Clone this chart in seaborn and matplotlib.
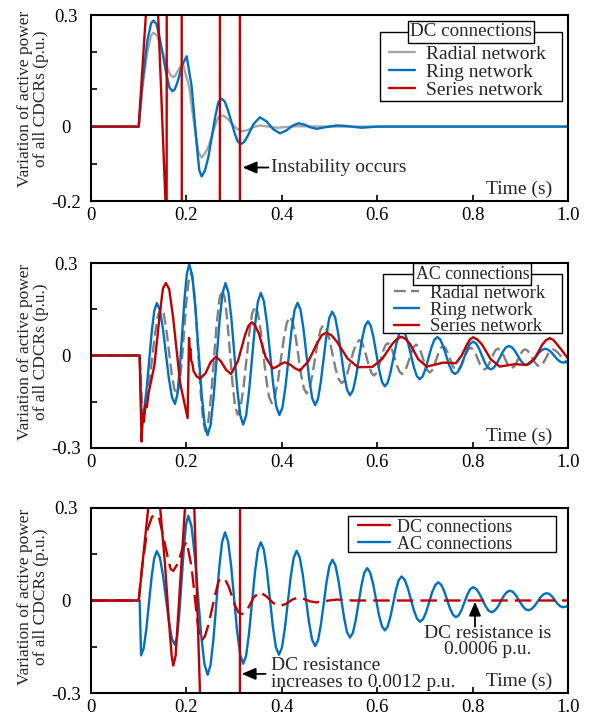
import matplotlib
matplotlib.use("Agg")
import matplotlib.pyplot as plt
from matplotlib.patches import Rectangle
import pandas as pd
import seaborn as sns

# ---------------- data (time s, active power variation p.u.) ----------------
top_radial = [(0, 0), (0.1, 0), (0.108, 0.105), (0.118, 0.20), (0.126, 0.245), (0.131, 0.252),
              (0.138, 0.246), (0.145, 0.222), (0.159, 0.163), (0.166, 0.139), (0.1725, 0.133),
              (0.1765, 0.136), (0.179, 0.142), (0.186, 0.159), (0.193, 0.168), (0.206, 0.105),
              (0.219, -0.020), (0.2255, -0.070), (0.232, -0.083), (0.239, -0.072), (0.246, -0.055),
              (0.260, 0.002), (0.267, 0.025), (0.274, 0.030), (0.281, 0.027), (0.288, 0.019),
              (0.302, -0.002), (0.316, -0.013), (0.329, -0.009), (0.341, -0.001), (0.354, 0.003),
              (0.39, -0.003), (0.43, 0.001), (0.5, 0.0), (1.0, 0.0)]
top_ring = [(0, 0), (0.1, 0), (0.108, 0.12), (0.118, 0.23), (0.126, 0.278), (0.131, 0.285),
            (0.1375, 0.275), (0.144, 0.238), (0.158, 0.142), (0.1645, 0.105), (0.171, 0.095),
            (0.1755, 0.100), (0.181, 0.118), (0.191, 0.165), (0.2006, 0.189), (0.211, 0.108),
            (0.222, -0.053), (0.227, -0.117), (0.232, -0.134), (0.239, -0.118), (0.246, -0.082),
            (0.260, 0.023), (0.267, 0.066), (0.274, 0.075), (0.2805, 0.067), (0.287, 0.045),
            (0.301, -0.017), (0.3075, -0.040), (0.314, -0.047), (0.3205, -0.042), (0.327, -0.029),
            (0.341, 0.007), (0.354, 0.025), (0.368, 0.014), (0.382, -0.007), (0.396, -0.018),
            (0.409, -0.011), (0.422, 0.002), (0.435, 0.009), (0.448, 0.005), (0.460, -0.002),
            (0.473, -0.006), (0.494, -0.001), (0.515, 0.003), (0.532, 0.002), (0.567, -0.003),
            (0.6, 0.0), (1.0, 0.0)]
top_series = [(0, 0), (0.1, 0), (0.131, 0.62), (0.1585, -0.28), (0.159, 0.7), (0.190, 0.7),
              (0.1905, -0.7), (0.270, -0.7), (0.2705, 0.7), (0.312, 0.7), (0.3125, -0.7), (1.0, -0.7)]

mid_radial = [(0, 0), (0.102, 0), (0.108, -0.19), (0.1145, -0.167), (0.121, -0.104), (0.134, 0.068),
              (0.1405, 0.131), (0.147, 0.154), (0.1525, 0.135), (0.158, 0.084), (0.169, -0.057),
              (0.1745, -0.108), (0.180, -0.127), (0.1849, -0.101), (0.1899, -0.028), (0.1997, 0.169),
              (0.2047, 0.242), (0.2096, 0.268), (0.2147, 0.234), (0.2197, 0.139), (0.2299, -0.118),
              (0.2349, -0.212), (0.240, -0.246), (0.2458, -0.215), (0.2517, -0.131), (0.2633, 0.099),
              (0.2692, 0.183), (0.275, 0.214), (0.2804, 0.187), (0.2858, 0.112), (0.2967, -0.091),
              (0.3021, -0.165), (0.3075, -0.192), (0.3136, -0.168), (0.3197, -0.104), (0.3318, 0.072),
              (0.3379, 0.136), (0.344, 0.160), (0.3498, 0.139), (0.3557, 0.081), (0.3673, -0.076),
              (0.3732, -0.134), (0.379, -0.155), (0.3853, -0.136), (0.3917, -0.085), (0.4043, 0.056),
              (0.4107, 0.107), (0.417, 0.126), (0.4228, 0.109), (0.4287, 0.064), (0.4403, -0.061),
              (0.4462, -0.106), (0.452, -0.123), (0.4578, -0.108), (0.4637, -0.067), (0.4753, 0.044),
              (0.4812, 0.084), (0.487, 0.099), (0.4934, 0.086), (0.4998, 0.052), (0.5127, -0.043),
              (0.5191, -0.077), (0.5255, -0.090), (0.5318, -0.081), (0.538, -0.055), (0.5505, 0.015),
              (0.5568, 0.041), (0.563, 0.050), (0.568, 0.042), (0.573, 0.021), (0.583, -0.036),
              (0.588, -0.057), (0.593, -0.065), (0.5978, -0.058), (0.6027, -0.039), (0.6123, 0.014),
              (0.6172, 0.033), (0.622, 0.040), (0.627, 0.033), (0.632, 0.015), (0.642, -0.035),
              (0.647, -0.053), (0.652, -0.060), (0.657, -0.054), (0.662, -0.036), (0.672, 0.011),
              (0.677, 0.029), (0.682, 0.035), (0.6867, 0.029), (0.6913, 0.013), (0.7007, -0.033),
              (0.7053, -0.049), (0.710, -0.055), (0.7147, -0.049), (0.7193, -0.034), (0.7287, 0.009),
              (0.7333, 0.024), (0.738, 0.030), (0.7428, 0.025), (0.7477, 0.010), (0.7573, -0.030),
              (0.7622, -0.045), (0.767, -0.050), (0.7718, -0.045), (0.7767, -0.031), (0.7863, 0.006),
              (0.7912, 0.020), (0.796, 0.025), (0.8008, 0.020), (0.8057, 0.008), (0.8153, -0.028),
              (0.8202, -0.040), (0.825, -0.045), (0.8297, -0.041), (0.8343, -0.028), (0.8437, 0.005),
              (0.8483, 0.018), (0.853, 0.022), (0.8578, 0.018), (0.8627, 0.007), (0.8723, -0.025),
              (0.8772, -0.036), (0.882, -0.040), (0.8867, -0.036), (0.8913, -0.025), (0.9007, 0.005),
              (0.9053, 0.016), (0.910, 0.020), (0.915, 0.016), (0.920, 0.006), (0.930, -0.021),
              (0.935, -0.031), (0.940, -0.035), (0.9447, -0.031), (0.9493, -0.021), (0.9587, 0.006),
              (0.9633, 0.016), (0.968, 0.020), (0.973, 0.017), (0.979, 0.009), (0.990, -0.012),
              (1.0, -0.025)]
mid_ring = [(0, 0), (0.102, 0), (0.106, -0.201), (0.1113, -0.176), (0.1167, -0.108), (0.1273, 0.077),
            (0.1327, 0.145), (0.138, 0.170), (0.1443, 0.148), (0.1507, 0.088), (0.1633, -0.075),
            (0.1697, -0.135), (0.176, -0.157), (0.181, -0.127), (0.186, -0.044), (0.196, 0.183),
            (0.201, 0.266), (0.206, 0.296), (0.2124, 0.259), (0.2188, 0.157), (0.2317, -0.120),
            (0.2381, -0.221), (0.2445, -0.258), (0.2508, -0.225), (0.257, -0.135), (0.2695, 0.112),
            (0.2758, 0.202), (0.282, 0.235), (0.2882, 0.204), (0.2943, 0.120), (0.3067, -0.109),
            (0.3128, -0.193), (0.319, -0.224), (0.3252, -0.195), (0.3313, -0.117), (0.3437, 0.096),
            (0.3498, 0.174), (0.356, 0.203), (0.3625, 0.176), (0.369, 0.104), (0.382, -0.094),
            (0.3885, -0.166), (0.395, -0.193), (0.4013, -0.169), (0.4077, -0.102), (0.4203, 0.080),
            (0.4267, 0.147), (0.433, 0.171), (0.4392, 0.149), (0.4453, 0.088), (0.4577, -0.078),
            (0.4638, -0.139), (0.470, -0.161), (0.4759, -0.141), (0.4818, -0.085), (0.4937, 0.066),
            (0.4996, 0.122), (0.5055, 0.142), (0.5118, 0.124), (0.518, 0.074), (0.5305, -0.061),
            (0.5368, -0.111), (0.543, -0.129), (0.5493, -0.113), (0.5555, -0.069), (0.568, 0.051),
            (0.5743, 0.095), (0.5805, 0.111), (0.5864, 0.097), (0.5923, 0.058), (0.6042, -0.047),
            (0.6101, -0.086), (0.616, -0.100), (0.622, -0.088), (0.628, -0.054), (0.640, 0.037),
            (0.646, 0.071), (0.652, 0.083), (0.6582, 0.072), (0.6643, 0.043), (0.6767, -0.037),
            (0.6828, -0.066), (0.689, -0.077), (0.6952, -0.068), (0.7013, -0.043), (0.7137, 0.026),
            (0.7198, 0.051), (0.726, 0.060), (0.7322, 0.052), (0.7383, 0.030), (0.7507, -0.030),
            (0.7568, -0.052), (0.763, -0.060), (0.7693, -0.053), (0.7757, -0.034), (0.7883, 0.019),
            (0.7947, 0.038), (0.801, 0.045), (0.8072, 0.039), (0.8133, 0.023), (0.8257, -0.023),
            (0.8318, -0.039), (0.838, -0.045), (0.8443, -0.040), (0.8507, -0.026), (0.8633, 0.012),
            (0.8697, 0.026), (0.876, 0.031), (0.8822, 0.027), (0.8883, 0.016), (0.9007, -0.016),
            (0.9068, -0.027), (0.913, -0.031), (0.9195, -0.027), (0.926, -0.018), (0.939, 0.009),
            (0.9455, 0.018), (0.952, 0.022), (0.9583, 0.019), (0.9647, 0.011), (0.9773, -0.012),
            (0.9837, -0.020), (0.990, -0.023), (1.0, -0.020)]
mid_series = [(0, 0), (0.102, 0), (0.106, -0.279), (0.109, -0.19), (0.111, -0.215), (0.114, -0.16),
              (0.117, -0.168), (0.121, -0.12), (0.133, -0.031), (0.145, 0.146), (0.151, 0.218),
              (0.157, 0.235), (0.164, 0.215), (0.172, 0.125), (0.187, -0.09), (0.2025, -0.203),
              (0.2055, 0.057), (0.207, 0.012), (0.2085, 0.022), (0.210, -0.018), (0.212, -0.022),
              (0.215, -0.050), (0.221, -0.067), (0.2285, -0.075), (0.240, -0.058), (0.251, -0.021),
              (0.262, -0.004), (0.272, -0.018), (0.283, -0.046), (0.2935, -0.060), (0.308, -0.018),
              (0.323, 0.066), (0.330, 0.096), (0.337, 0.108), (0.344, 0.097), (0.352, 0.071),
              (0.366, -0.005), (0.381, -0.042), (0.390, -0.036), (0.399, -0.027), (0.407, -0.022),
              (0.418, -0.030), (0.428, -0.042), (0.438, -0.049), (0.456, -0.018), (0.475, 0.043),
              (0.484, 0.066), (0.493, 0.074), (0.504, 0.066), (0.515, 0.046), (0.538, -0.010),
              (0.560, -0.038), (0.590, -0.037), (0.610, -0.012), (0.631, 0.036), (0.641, 0.053),
              (0.651, 0.061), (0.660, 0.053), (0.669, 0.037), (0.686, -0.012), (0.704, -0.036),
              (0.720, -0.030), (0.739, -0.023), (0.765, -0.025), (0.777, 0.000), (0.789, 0.038),
              (0.795, 0.053), (0.801, 0.059), (0.810, 0.052), (0.820, 0.035), (0.838, -0.012),
              (0.857, -0.036), (0.889, -0.028), (0.913, -0.031), (0.930, -0.010), (0.946, 0.035),
              (0.954, 0.050), (0.962, 0.056), (0.969, 0.051), (0.975, 0.040), (0.988, 0.015),
              (1.0, -0.010)]

bot_ac = [(0, 0), (0.102, 0), (0.105, -0.178), (0.1105, -0.155), (0.116, -0.093), (0.127, 0.076),
          (0.1325, 0.137), (0.138, 0.160), (0.1443, 0.140), (0.1507, 0.084), (0.1633, -0.068),
          (0.1697, -0.124), (0.176, -0.144), (0.1807, -0.116), (0.1853, -0.039), (0.1947, 0.170),
          (0.1993, 0.247), (0.204, 0.275), (0.2108, 0.240), (0.2175, 0.146), (0.231, -0.112),
          (0.2378, -0.206), (0.2445, -0.241), (0.2506, -0.210), (0.2567, -0.125), (0.2688, 0.106),
          (0.2749, 0.190), (0.281, 0.221), (0.2873, 0.192), (0.2937, 0.114), (0.3063, -0.099),
          (0.3127, -0.176), (0.319, -0.205), (0.3252, -0.179), (0.3313, -0.106), (0.3437, 0.091),
          (0.3498, 0.163), (0.356, 0.189), (0.3623, 0.165), (0.3687, 0.098), (0.3813, -0.085),
          (0.3877, -0.152), (0.394, -0.176), (0.4002, -0.153), (0.4063, -0.092), (0.4187, 0.077),
          (0.4248, 0.138), (0.431, 0.161), (0.4375, 0.140), (0.444, 0.084), (0.457, -0.071),
          (0.4635, -0.127), (0.470, -0.148), (0.476, -0.129), (0.482, -0.078), (0.494, 0.062),
          (0.500, 0.113), (0.506, 0.132), (0.5122, 0.115), (0.5183, 0.069), (0.5307, -0.057),
          (0.5368, -0.103), (0.543, -0.120), (0.549, -0.105), (0.555, -0.064), (0.567, 0.049),
          (0.573, 0.090), (0.579, 0.105), (0.5852, 0.091), (0.5913, 0.055), (0.6037, -0.047),
          (0.6098, -0.083), (0.616, -0.097), (0.6218, -0.085), (0.6277, -0.053), (0.6393, 0.034),
          (0.6452, 0.066), (0.651, 0.078), (0.6575, 0.068), (0.664, 0.041), (0.677, -0.032),
          (0.6835, -0.059), (0.690, -0.069), (0.6963, -0.060), (0.7027, -0.037), (0.7153, 0.027),
          (0.7217, 0.050), (0.728, 0.059), (0.7342, 0.051), (0.7403, 0.031), (0.7527, -0.026),
          (0.7588, -0.046), (0.765, -0.054), (0.771, -0.048), (0.777, -0.030), (0.789, 0.019),
          (0.795, 0.037), (0.801, 0.043), (0.8075, 0.038), (0.814, 0.023), (0.827, -0.018),
          (0.8335, -0.033), (0.840, -0.038), (0.8463, -0.033), (0.8527, -0.021), (0.8653, 0.015),
          (0.8717, 0.027), (0.878, 0.032), (0.8845, 0.028), (0.891, 0.016), (0.904, -0.016),
          (0.9105, -0.028), (0.917, -0.032), (0.9233, -0.028), (0.9297, -0.018), (0.9423, 0.010),
          (0.9487, 0.020), (0.955, 0.024), (0.9608, 0.021), (0.9667, 0.013), (0.9783, -0.011),
          (0.9842, -0.019), (0.990, -0.022), (1.0, -0.018)]
bot_dc_0006 = [(0, 0), (0.1, 0), (0.108, 0.12), (0.118, 0.228), (0.128, 0.272), (0.136, 0.278),
               (0.142, 0.272), (0.148, 0.232), (0.161, 0.140), (0.167, 0.102), (0.1725, 0.096),
               (0.182, 0.120), (0.192, 0.170), (0.2006, 0.19), (0.211, 0.108), (0.222, -0.053),
               (0.227, -0.113), (0.232, -0.130), (0.239, -0.115), (0.246, -0.080), (0.261, 0.023),
               (0.268, 0.065), (0.2755, 0.074), (0.282, 0.066), (0.289, 0.044), (0.302, -0.016),
               (0.309, -0.038), (0.316, -0.044), (0.3225, -0.040), (0.329, -0.026), (0.341, 0.010),
               (0.354, 0.028), (0.368, 0.013), (0.382, -0.008), (0.396, -0.018), (0.409, -0.011),
               (0.422, 0.003), (0.435, 0.010), (0.448, 0.004), (0.460, -0.003), (0.473, -0.006),
               (0.494, -0.001), (0.515, 0.003), (0.55, 0.0), (1.0, 0.0)]
bot_dc_0012 = [(0, 0), (0.1, 0), (0.1338, 0.507), (0.145, 0.3), (0.155, 0.12), (0.162, -0.039),
               (0.169, -0.178), (0.1725, -0.211), (0.1775, -0.178), (0.1866, 0.047), (0.197, 0.3),
               (0.2102, 0.62), (0.2325, -0.5), (0.3122, -0.5), (0.3127, 0.6), (1.0, 0.6)]

x_ticks = [0, 0.2, 0.4, 0.6, 0.8, 1.0]
x_ticklabels = ["0", "0.2", "0.4", "0.6", "0.8", "1.0"]
top_yticks = [-0.2, -0.1, 0, 0.1, 0.2, 0.3]
top_yticklabels = ["-0.2", "", "0", "", "", "0.3"]
ac_yticks = [-0.3, -0.15, 0, 0.15, 0.3]
ac_yticklabels = ["-0.3", "", "0", "", "0.3"]

GRAY_L = "#a6a6a6"
GRAY_D = "#808080"
BLUE = "#0070c0"
RED = "#c00000"

# ---------------- style ----------------
sns.set_theme(style="ticks")
plt.rcParams["font.family"] = ["Liberation Serif", "DejaVu Serif"]
plt.rcParams.update({
    "axes.linewidth": 1.5,
    "axes.edgecolor": "black",
    "xtick.direction": "in",
    "ytick.direction": "in",
    "xtick.major.size": 4,
    "ytick.major.size": 4,
    "xtick.major.width": 1.2,
    "ytick.major.width": 1.2,
    "xtick.color": "black",
    "ytick.color": "black",
})

fig = plt.figure(figsize=(5.9, 7.17), dpi=100)
L, W = 91 / 590, 477 / 590
ax1 = fig.add_axes([L, 1 - 201 / 717, W, 186 / 717])
ax2 = fig.add_axes([L, 1 - 448 / 717, W, 185 / 717])
ax3 = fig.add_axes([L, 1 - 693 / 717, W, 185 / 717])

LW = 1.7


def draw(ax, pairs, color, dashes=None):
    df = pd.DataFrame(pairs, columns=["t", "v"])
    sns.lineplot(data=df, x="t", y="v", ax=ax, color=color, lw=LW,
                 estimator=None, sort=False, legend=False)
    line = ax.lines[-1]
    line.set_solid_joinstyle("round")
    if dashes is not None:
        line.set_dashes(dashes)
    return line


def style_axes(ax, yticks, ylabels, ylim, ylab_y):
    ax.set_xlim(0, 1.0)
    ax.set_ylim(*ylim)
    ax.set_xticks(x_ticks)
    ax.set_xticklabels(x_ticklabels, fontsize=13.5)
    ax.set_yticks(yticks)
    ax.set_yticklabels(ylabels, fontsize=13.5)
    for lb in ax.get_yticklabels():
        lb.set_horizontalalignment("center")
    ax.tick_params(axis="y", pad=18, left=True, right=False)
    ax.tick_params(axis="x", pad=4, bottom=True, top=False)
    ax.set_xlabel("")
    ax.set_ylabel("Variation of active power\nof all CDCRs (p.u.)", fontsize=12.5,
                  linespacing=1.0)
    ax.yaxis.set_label_coords(-0.088, ylab_y)
    for s in ax.spines.values():
        s.set_visible(True)
        s.set_linewidth(1.5)
    ax.text(0.966, 0.015, "Time (s)", transform=ax.transAxes, ha="right", va="bottom",
            fontsize=14)


def legend_box(ax, handles, labels, fs, frame, handle_x, center_y, hl, htp, ls, title=None,
               title_fs=13.5):
    x0, y0, x1, y1 = frame
    rect = Rectangle((x0, y0), x1 - x0, y1 - y0, transform=ax.transAxes, facecolor="white",
                     edgecolor="black", lw=1.0, zorder=4.5)
    ax.add_patch(rect)
    leg = ax.legend(handles, labels, loc="center left", bbox_to_anchor=(handle_x, center_y),
                    frameon=False, fontsize=fs, borderpad=0, borderaxespad=0,
                    handlelength=hl, handletextpad=htp, labelspacing=ls)
    leg.set_zorder(5)
    if title:
        ax.text((x0 + x1) / 2, y1, title, transform=ax.transAxes, ha="center", va="center",
                fontsize=title_fs, zorder=6,
                bbox=dict(boxstyle="square,pad=0.12", fc="white", ec="black", lw=1.0))
    return leg


ARROW = dict(arrowstyle="-|>,head_length=0.7,head_width=0.3", color="black", lw=1.3,
             shrinkA=0, shrinkB=0, mutation_scale=12)

# ---------------- panel 1: DC connections ----------------
h_rad = draw(ax1, top_radial, GRAY_L)
h_ring = draw(ax1, top_ring, BLUE)
h_ser = draw(ax1, top_series, RED)
style_axes(ax1, top_yticks, top_yticklabels, (-0.2, 0.3), 0.55)
legend_box(ax1, [h_rad, h_ring, h_ser], ["Radial network", "Ring network", "Series network"],
           14, (0.606, 0.538, 0.987, 0.909), 0.6247, 0.6935, 1.34, 0.57, 0.03,
           title="DC connections", title_fs=13.7)
ax1.annotate("", xy=(0.318, -0.11), xytext=(0.372, -0.11), arrowprops=ARROW)
ax1.text(0.377, -0.11, "Instability occurs", ha="left", va="center", fontsize=14)

# ---------------- panel 2: AC connections ----------------
g_rad = draw(ax2, mid_radial, GRAY_D, dashes=[5.0, 2.2])
g_ring = draw(ax2, mid_ring, BLUE)
g_ser = draw(ax2, mid_series, RED)
style_axes(ax2, ac_yticks, ac_yticklabels, (-0.3, 0.3), 0.52)
legend_box(ax2, [g_rad, g_ring, g_ser], ["Radial network", "Ring network", "Series network"],
           13.5, (0.612, 0.6216, 0.987, 0.9405), 0.635, 0.746, 1.35, 0.57, -0.03,
           title="AC connections", title_fs=12.8)

# ---------------- panel 3: DC vs AC ----------------
b_ac = draw(ax3, bot_ac, BLUE)
b_dc6 = draw(ax3, bot_dc_0006, RED, dashes=[7.0, 3.0])
b_dc12 = draw(ax3, bot_dc_0012, RED)
style_axes(ax3, ac_yticks, ac_yticklabels, (-0.3, 0.3), 0.52)
legend_box(ax3, [b_dc12, b_ac], ["DC connections", "AC connections"], 13,
           (0.5388, 0.762, 0.9748, 0.9568), 0.5597, 0.851, 1.77, 0.39, 0.0)
ax3.annotate("", xy=(0.316, -0.238), xytext=(0.366, -0.238), arrowprops=ARROW)
ax3.text(0.377, -0.238, "DC resistance\nincreases to 0.0012 p.u.", ha="left", va="center",
         fontsize=14, linespacing=0.95)
ax3.annotate("", xy=(0.805, -0.004), xytext=(0.805, -0.085), arrowprops=ARROW)
ax3.text(0.831, -0.133, "DC resistance is\n0.0006 p.u.", ha="center", va="center",
         fontsize=14, linespacing=0.95)

fig.savefig("out.png", dpi=100, facecolor="white")
